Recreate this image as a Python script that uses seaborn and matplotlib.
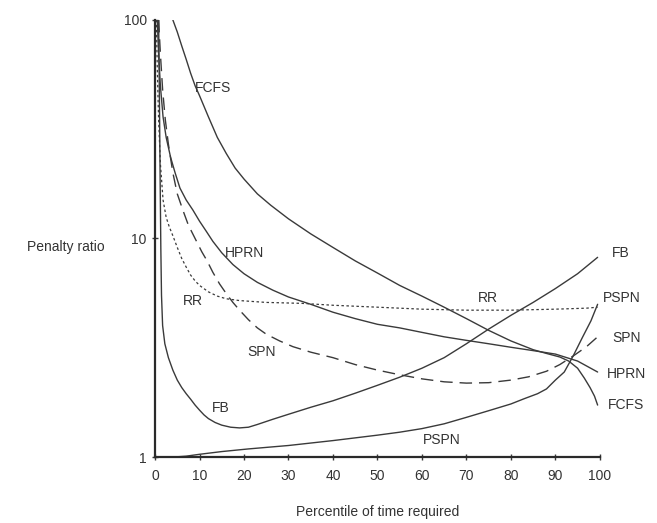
import matplotlib
matplotlib.use("Agg")
import matplotlib.pyplot as plt
import seaborn as sns

# percentile of time required (x) and penalty ratio (y) per policy
fcfs_x = [4, 5, 6, 7, 8, 9, 10, 12, 14, 16, 18, 20, 23, 26, 30, 35, 40, 45, 50, 55, 60, 65, 70, 75,
          80, 85, 88, 91, 93, 95, 96.5, 97.8, 98.8, 99.5]
fcfs_y = [100, 88, 76, 66, 57, 50, 45, 36, 29, 24.5, 21, 18.7, 16, 14.2, 12.3, 10.5, 9.1, 7.9, 6.95, 6.1,
          5.45, 4.85, 4.3, 3.8, 3.4, 3.1, 2.98, 2.87, 2.75, 2.55, 2.3, 2.08, 1.9, 1.73]

hprn_x = [0.5, 0.8, 1.2, 1.8, 2.5, 3.5, 4.5, 5.6, 7, 8.5, 10, 11.5, 13, 15, 17.5, 20, 23, 26.5, 30, 35,
          40, 45, 50, 55, 60, 65, 70, 75, 80, 85, 90, 95, 99.5]
hprn_y = [100, 70, 50, 36, 29, 23.5, 20, 17, 15, 13.5, 12, 10.8, 9.7, 8.6, 7.6, 6.9, 6.3, 5.8, 5.4, 5.0,
          4.6, 4.3, 4.05, 3.9, 3.72, 3.55, 3.42, 3.3, 3.18, 3.07, 2.96, 2.75, 2.45]

rr_x = [0.3, 0.5, 0.8, 1.2, 1.8, 2.5, 3.2, 4, 5, 6, 7, 8, 9, 10, 12, 14, 16, 19, 25, 33, 40, 50, 60,
        70, 80, 90, 97, 99.5]
rr_y = [100, 60, 35, 22, 15, 12.5, 11.3, 10.3, 9.1, 8.1, 7.4, 6.8, 6.4, 6.1, 5.7, 5.45, 5.3, 5.2, 5.1,
        5.05, 4.95, 4.85, 4.75, 4.7, 4.7, 4.75, 4.8, 4.85]

spn_x = [0.8, 1.2, 1.7, 2.3, 3, 4, 5, 6.3, 7.5, 9, 10.5, 11.7, 13, 14.5, 16, 17.5, 19, 21, 23, 25, 28,
         31, 35, 40, 45, 50, 55, 60, 65, 70, 75, 80, 84, 88, 91, 94, 97, 99.5]
spn_y = [100, 70, 48, 35, 27, 20, 16, 13.4, 11.5, 10, 8.7, 7.9, 7.0, 6.2, 5.6, 5.1, 4.7, 4.25, 3.9,
         3.65, 3.4, 3.2, 3.02, 2.85, 2.65, 2.5, 2.38, 2.28, 2.21, 2.18, 2.19, 2.25, 2.33, 2.47, 2.65,
         2.9, 3.2, 3.55]

fb_x = [0.8, 1.0, 1.15, 1.3, 1.45, 1.7, 2.2, 3, 4, 5, 6, 7, 8, 9, 10, 11, 12, 13.5, 15, 17, 19, 21,
        23, 26.5, 30, 35, 40, 45, 50, 55, 60, 65, 70, 75, 80, 85, 90, 95, 99.5]
fb_y = [100, 40, 18, 9, 5.5, 4.0, 3.3, 2.85, 2.5, 2.25, 2.08, 1.95, 1.84, 1.73, 1.64, 1.56, 1.5, 1.44,
        1.4, 1.37, 1.36, 1.37, 1.41, 1.49, 1.57, 1.69, 1.81, 1.96, 2.13, 2.32, 2.55, 2.85, 3.3, 3.85,
        4.45, 5.1, 5.9, 6.9, 8.2]

pspn_x = [0, 4, 7, 10, 15, 21, 30, 40, 50, 55, 60, 65, 70, 75, 80, 83, 86, 88, 90, 92, 94, 96, 98, 99.5]
pspn_y = [1.0, 1.0, 1.01, 1.03, 1.06, 1.09, 1.13, 1.19, 1.26, 1.3, 1.35, 1.42, 1.52, 1.63, 1.75, 1.85,
          1.95, 2.05, 2.25, 2.45, 2.9, 3.5, 4.2, 5.0]

x_ticks = [0, 10, 20, 30, 40, 50, 60, 70, 80, 90, 100]
y_ticks = [1, 10, 100]

# curve labels: text, x, y
labels = [
    ("FCFS", 9.0, 48.8),
    ("HPRN", 15.7, 8.6),
    ("RR", 6.3, 5.18),
    ("SPN", 20.7, 3.02),
    ("FB", 12.8, 1.68),
    ("PSPN", 60.2, 1.196),
    ("RR", 72.6, 5.34),
    ("FB", 102.7, 8.58),
    ("PSPN", 100.7, 5.34),
    ("SPN", 102.7, 3.5),
    ("HPRN", 101.6, 2.40),
    ("FCFS", 101.8, 1.73),
]

sns.set_style("ticks")
plt.rcParams['font.family'] = ['Liberation Sans', 'DejaVu Sans']

ink = "#3a3a3a"
fig = plt.figure(figsize=(6.57, 5.23), dpi=100)
ax = fig.add_axes([0.236, 0.126, 0.677, 0.836])

solid = dict(color=ink, linewidth=1.0)
sns.lineplot(x=fcfs_x, y=fcfs_y, ax=ax, sort=False, **solid)
sns.lineplot(x=hprn_x, y=hprn_y, ax=ax, sort=False, **solid)
sns.lineplot(x=fb_x, y=fb_y, ax=ax, sort=False, **solid)
sns.lineplot(x=pspn_x, y=pspn_y, ax=ax, sort=False, **solid)
sns.lineplot(x=rr_x, y=rr_y, ax=ax, sort=False, color=ink, linewidth=0.9,
             linestyle=(0, (2.0, 2.0)))
sns.lineplot(x=spn_x, y=spn_y, ax=ax, sort=False, color=ink, linewidth=1.0,
             linestyle=(0, (9, 5)))

ax.set_yscale("log")
ax.set_xlim(0, 100)
ax.set_ylim(1, 100)
ax.set_xticks(x_ticks)
ax.set_yticks(y_ticks)
ax.set_yticklabels([str(v) for v in y_ticks])
ax.minorticks_off()
ax.tick_params(axis="both", direction="inout", length=5, width=1.0,
               colors=ink, labelsize=10, labelcolor="#333333")
ax.tick_params(axis="x", pad=6)

sns.despine(ax=ax)
for side in ["left", "bottom"]:
    ax.spines[side].set_linewidth(1.6)
    ax.spines[side].set_color("#2a2a2a")

for txt, lx, ly in labels:
    ax.text(lx, ly, txt, ha="left", va="center", fontsize=10, color="#333333",
            clip_on=False)

ax.set_xlabel("Percentile of time required", fontsize=10, color="#333333")
ax.xaxis.set_label_coords(0.5, -0.126)
ax.xaxis.label.set_va("center")
ax.set_ylabel("Penalty ratio", fontsize=10, color="#333333", rotation=0)
ax.yaxis.set_label_coords(-0.2, 0.48)
ax.yaxis.label.set_ha("center")
ax.yaxis.label.set_va("center")

fig.savefig("out.png", dpi=100)
